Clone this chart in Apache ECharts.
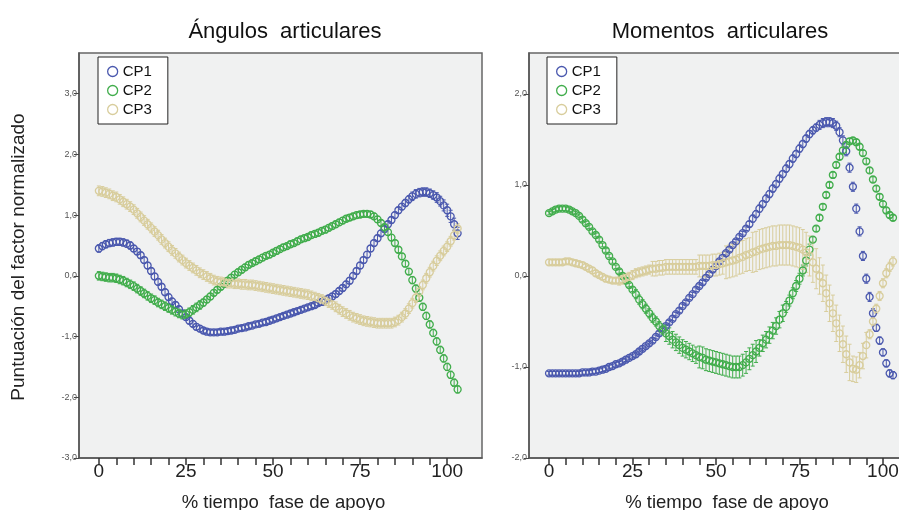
<!DOCTYPE html>
<html>
<head>
<meta charset="utf-8">
<script src="https://cdn.jsdelivr.net/npm/echarts@6/dist/echarts.min.js"></script>
<style>
  html, body { margin: 0; padding: 0; background: #fff; }
  #chart { width: 899px; height: 510px; }
</style>
</head>
<body>
<div id="chart"></div>
<script>
// % tiempo fase de apoyo (0..103)
const tiempo = Array.from({ length: 104 }, (_, i) => i);

const xTicks = [0, 5, 10, 15, 20, 25, 30, 35, 40, 45, 50, 55, 60, 65, 70, 75, 80, 85, 90, 95, 100];
const xLabels = [0, 25, 50, 75, 100];
const yTicksAng = [-3, -2, -1, 0, 1, 2, 3];
const yTicksMom = [-2, -1, 0, 1, 2];

// Ángulos articulares
const angCP1 = [
  0.45, 0.49, 0.52, 0.54, 0.55, 0.56, 0.56, 0.55, 0.53, 0.50,
  0.45, 0.40, 0.34, 0.26, 0.17, 0.08, -0.01, -0.10, -0.18, -0.27,
  -0.35, -0.42, -0.48, -0.55, -0.62, -0.68, -0.74, -0.79, -0.84, -0.87,
  -0.90, -0.92, -0.93, -0.93, -0.93, -0.92, -0.92, -0.91, -0.90, -0.89,
  -0.87, -0.86, -0.85, -0.83, -0.82, -0.80, -0.79, -0.77, -0.76, -0.74,
  -0.72, -0.70, -0.68, -0.66, -0.64, -0.62, -0.60, -0.58, -0.56, -0.54,
  -0.52, -0.50, -0.48, -0.45, -0.43, -0.40, -0.37, -0.34, -0.30, -0.25,
  -0.20, -0.14, -0.08, 0.00, 0.08, 0.17, 0.26, 0.35, 0.45, 0.54,
  0.62, 0.70, 0.77, 0.85, 0.92, 1.00, 1.08, 1.14, 1.20, 1.26,
  1.31, 1.35, 1.37, 1.38, 1.38, 1.36, 1.33, 1.29, 1.23, 1.16,
  1.08, 0.98, 0.85, 0.70
];
const angCP2 = [
  0.00, -0.01, -0.02, -0.03, -0.03, -0.04, -0.06, -0.08, -0.11, -0.14,
  -0.17, -0.21, -0.25, -0.29, -0.33, -0.37, -0.40, -0.44, -0.47, -0.50,
  -0.53, -0.56, -0.59, -0.62, -0.64, -0.63, -0.60, -0.56, -0.52, -0.48,
  -0.44, -0.39, -0.34, -0.28, -0.23, -0.18, -0.13, -0.08, -0.03, 0.02,
  0.06, 0.10, 0.14, 0.18, 0.21, 0.24, 0.27, 0.30, 0.33, 0.35,
  0.38, 0.41, 0.44, 0.47, 0.49, 0.52, 0.54, 0.57, 0.60, 0.62,
  0.64, 0.67, 0.69, 0.71, 0.74, 0.76, 0.79, 0.82, 0.85, 0.88,
  0.91, 0.94, 0.96, 0.98, 1.00, 1.01, 1.02, 1.02, 1.01, 0.98,
  0.93, 0.87, 0.80, 0.72, 0.63, 0.54, 0.43, 0.32, 0.20, 0.07,
  -0.07, -0.21, -0.36, -0.51, -0.66, -0.80, -0.94, -1.08, -1.22, -1.36,
  -1.50, -1.63, -1.76, -1.87
];
const angCP3 = [
  1.40, 1.39, 1.37, 1.35, 1.32, 1.30, 1.26, 1.22, 1.18, 1.14,
  1.09, 1.03, 0.97, 0.91, 0.85, 0.79, 0.73, 0.67, 0.60, 0.54,
  0.48, 0.42, 0.37, 0.31, 0.26, 0.21, 0.17, 0.13, 0.09, 0.05,
  0.02, -0.01, -0.04, -0.07, -0.09, -0.10, -0.11, -0.12, -0.12, -0.13,
  -0.13, -0.14, -0.14, -0.15, -0.15, -0.16, -0.17, -0.18, -0.19, -0.20,
  -0.21, -0.22, -0.23, -0.24, -0.25, -0.26, -0.27, -0.28, -0.29, -0.30,
  -0.31, -0.33, -0.35, -0.37, -0.39, -0.41, -0.44, -0.47, -0.51, -0.55,
  -0.59, -0.62, -0.65, -0.68, -0.70, -0.72, -0.74, -0.75, -0.76, -0.77,
  -0.78, -0.78, -0.78, -0.78, -0.78, -0.76, -0.73, -0.68, -0.62, -0.54,
  -0.45, -0.36, -0.26, -0.15, -0.04, 0.06, 0.16, 0.25, 0.33, 0.41,
  0.48, 0.57, 0.67, 0.78
];

// Momentos articulares
const momCP1 = [
  -1.07, -1.07, -1.07, -1.07, -1.07, -1.07, -1.07, -1.07, -1.07, -1.07,
  -1.06, -1.06, -1.06, -1.05, -1.05, -1.04, -1.03, -1.02, -1.00, -0.99,
  -0.97, -0.96, -0.94, -0.92, -0.90, -0.88, -0.86, -0.83, -0.80, -0.77,
  -0.74, -0.71, -0.67, -0.63, -0.59, -0.55, -0.51, -0.47, -0.42, -0.38,
  -0.33, -0.29, -0.24, -0.20, -0.15, -0.11, -0.07, -0.02, 0.02, 0.07,
  0.11, 0.16, 0.20, 0.25, 0.29, 0.34, 0.38, 0.43, 0.47, 0.52,
  0.57, 0.63, 0.68, 0.74, 0.79, 0.85, 0.90, 0.96, 1.01, 1.07,
  1.12, 1.18, 1.23, 1.29, 1.34, 1.40, 1.45, 1.51, 1.56, 1.60,
  1.63, 1.66, 1.68, 1.69, 1.69, 1.68, 1.65, 1.58, 1.49, 1.37,
  1.19, 0.98, 0.74, 0.49, 0.22, -0.03, -0.23, -0.41, -0.57, -0.71,
  -0.84, -0.96, -1.07, -1.09
];
const momCP2 = [
  0.69, 0.71, 0.73, 0.74, 0.74, 0.74, 0.73, 0.71, 0.69, 0.66,
  0.62, 0.58, 0.54, 0.49, 0.45, 0.40, 0.34, 0.28, 0.22, 0.16,
  0.10, 0.05, 0.00, -0.05, -0.10, -0.15, -0.20, -0.26, -0.31, -0.36,
  -0.41, -0.46, -0.50, -0.55, -0.59, -0.63, -0.66, -0.70, -0.73, -0.76,
  -0.79, -0.81, -0.83, -0.85, -0.87, -0.89, -0.90, -0.92, -0.93, -0.94,
  -0.95, -0.96, -0.97, -0.98, -0.99, -1.00, -1.00, -1.00, -0.98, -0.95,
  -0.91, -0.87, -0.83, -0.79, -0.74, -0.70, -0.65, -0.60, -0.55, -0.48,
  -0.41, -0.34, -0.27, -0.19, -0.11, -0.03, 0.06, 0.17, 0.29, 0.40,
  0.52, 0.64, 0.76, 0.89, 1.00, 1.11, 1.22, 1.31, 1.38, 1.44,
  1.48, 1.49, 1.47, 1.42, 1.35, 1.26, 1.16, 1.06, 0.96, 0.87,
  0.79, 0.72, 0.67, 0.64
];
const momCP3 = [
  0.15, 0.15, 0.15, 0.15, 0.15, 0.16, 0.16, 0.15, 0.14, 0.13,
  0.12, 0.10, 0.08, 0.06, 0.03, 0.01, -0.01, -0.03, -0.04, -0.05,
  -0.05, -0.05, -0.04, -0.02, -0.01, 0.01, 0.03, 0.04, 0.05, 0.06,
  0.07, 0.08, 0.08, 0.09, 0.09, 0.10, 0.10, 0.10, 0.10, 0.10,
  0.10, 0.10, 0.10, 0.10, 0.10, 0.11, 0.11, 0.11, 0.11, 0.12,
  0.12, 0.13, 0.14, 0.15, 0.16, 0.17, 0.18, 0.20, 0.21, 0.23,
  0.24, 0.26, 0.27, 0.29, 0.30, 0.31, 0.32, 0.33, 0.33, 0.34,
  0.34, 0.34, 0.34, 0.33, 0.32, 0.31, 0.29, 0.26, 0.22, 0.15,
  0.08, 0.00, -0.08, -0.19, -0.30, -0.41, -0.52, -0.63, -0.75, -0.86,
  -0.95, -1.02, -1.03, -0.98, -0.88, -0.76, -0.64, -0.50, -0.36, -0.22,
  -0.08, 0.03, 0.10, 0.16
];

// half-width of the error bars
const angErr1 = [
  0.06, 0.06, 0.06, 0.06, 0.06, 0.06, 0.06, 0.06, 0.06, 0.06,
  0.05, 0.05, 0.05, 0.05, 0.05, 0.05, 0.05, 0.05, 0.05, 0.05,
  0.05, 0.05, 0.05, 0.05, 0.05, 0.05, 0.05, 0.05, 0.05, 0.05,
  0.04, 0.04, 0.04, 0.04, 0.04, 0.04, 0.04, 0.04, 0.04, 0.04,
  0.04, 0.04, 0.04, 0.04, 0.04, 0.04, 0.04, 0.04, 0.04, 0.04,
  0.04, 0.04, 0.04, 0.04, 0.04, 0.04, 0.04, 0.04, 0.04, 0.04,
  0.04, 0.04, 0.04, 0.04, 0.05, 0.05, 0.05, 0.05, 0.05, 0.05,
  0.05, 0.05, 0.05, 0.05, 0.05, 0.05, 0.05, 0.05, 0.05, 0.05,
  0.05, 0.05, 0.05, 0.05, 0.05, 0.05, 0.05, 0.05, 0.06, 0.06,
  0.07, 0.07, 0.07, 0.07, 0.07, 0.07, 0.07, 0.08, 0.08, 0.09,
  0.10, 0.10, 0.10, 0.10
];
const angErr2 = [
  0.07, 0.07, 0.07, 0.07, 0.07, 0.07, 0.07, 0.07, 0.07, 0.07,
  0.07, 0.07, 0.07, 0.07, 0.07, 0.07, 0.07, 0.07, 0.07, 0.07,
  0.07, 0.07, 0.07, 0.07, 0.07, 0.07, 0.07, 0.07, 0.07, 0.07,
  0.06, 0.05, 0.05, 0.05, 0.05, 0.05, 0.05, 0.05, 0.05, 0.05,
  0.05, 0.05, 0.05, 0.05, 0.05, 0.05, 0.05, 0.05, 0.05, 0.05,
  0.05, 0.05, 0.05, 0.05, 0.05, 0.05, 0.05, 0.05, 0.05, 0.05,
  0.05, 0.05, 0.05, 0.05, 0.05, 0.05, 0.05, 0.05, 0.05, 0.05,
  0.05, 0.05, 0.05, 0.05, 0.05, 0.05, 0.05, 0.05, 0.05, 0.05,
  0.05, 0.05, 0.05, 0.05, 0.05, 0.05, 0.05, 0.05, 0.05, 0.05,
  0.06, 0.06, 0.06, 0.06, 0.06, 0.06, 0.06, 0.06, 0.06, 0.06,
  0.06, 0.06, 0.06, 0.06
];
const angErr3 = [
  0.08, 0.08, 0.08, 0.08, 0.08, 0.08, 0.08, 0.08, 0.08, 0.08,
  0.08, 0.08, 0.08, 0.08, 0.08, 0.08, 0.08, 0.08, 0.08, 0.08,
  0.08, 0.08, 0.08, 0.08, 0.08, 0.08, 0.08, 0.08, 0.08, 0.08,
  0.08, 0.08, 0.08, 0.08, 0.08, 0.08, 0.08, 0.08, 0.08, 0.08,
  0.08, 0.08, 0.08, 0.08, 0.08, 0.08, 0.08, 0.08, 0.08, 0.08,
  0.08, 0.08, 0.08, 0.08, 0.08, 0.08, 0.08, 0.08, 0.08, 0.08,
  0.08, 0.08, 0.08, 0.08, 0.08, 0.08, 0.08, 0.08, 0.08, 0.08,
  0.08, 0.08, 0.08, 0.08, 0.08, 0.08, 0.08, 0.08, 0.08, 0.08,
  0.08, 0.08, 0.08, 0.08, 0.08, 0.08, 0.08, 0.08, 0.08, 0.08,
  0.08, 0.08, 0.08, 0.08, 0.08, 0.08, 0.08, 0.08, 0.08, 0.08,
  0.08, 0.08, 0.08, 0.08
];
const momErr1 = [
  0.02, 0.02, 0.02, 0.02, 0.02, 0.02, 0.02, 0.02, 0.02, 0.02,
  0.02, 0.02, 0.02, 0.02, 0.02, 0.02, 0.02, 0.02, 0.02, 0.02,
  0.02, 0.02, 0.02, 0.02, 0.02, 0.02, 0.02, 0.02, 0.02, 0.02,
  0.02, 0.02, 0.02, 0.02, 0.02, 0.02, 0.02, 0.02, 0.02, 0.02,
  0.02, 0.02, 0.02, 0.02, 0.02, 0.02, 0.02, 0.02, 0.02, 0.02,
  0.02, 0.02, 0.02, 0.02, 0.02, 0.02, 0.02, 0.02, 0.02, 0.02,
  0.03, 0.04, 0.04, 0.04, 0.04, 0.04, 0.04, 0.04, 0.04, 0.04,
  0.04, 0.04, 0.04, 0.04, 0.04, 0.04, 0.04, 0.04, 0.04, 0.04,
  0.04, 0.05, 0.05, 0.05, 0.05, 0.05, 0.05, 0.05, 0.05, 0.05,
  0.05, 0.05, 0.05, 0.05, 0.05, 0.05, 0.05, 0.05, 0.04, 0.04,
  0.04, 0.04, 0.04, 0.04
];
const momErr2 = [
  0.02, 0.02, 0.02, 0.02, 0.02, 0.02, 0.02, 0.02, 0.02, 0.02,
  0.02, 0.02, 0.02, 0.02, 0.02, 0.02, 0.02, 0.02, 0.02, 0.02,
  0.02, 0.02, 0.02, 0.02, 0.02, 0.02, 0.05, 0.05, 0.05, 0.05,
  0.05, 0.05, 0.05, 0.05, 0.05, 0.09, 0.09, 0.09, 0.09, 0.09,
  0.09, 0.09, 0.09, 0.09, 0.09, 0.12, 0.12, 0.12, 0.12, 0.12,
  0.12, 0.12, 0.12, 0.12, 0.12, 0.12, 0.12, 0.12, 0.12, 0.12,
  0.12, 0.12, 0.12, 0.09, 0.09, 0.09, 0.09, 0.09, 0.09, 0.09,
  0.09, 0.06, 0.06, 0.06, 0.06, 0.06, 0.06, 0.06, 0.06, 0.03,
  0.03, 0.03, 0.03, 0.03, 0.03, 0.03, 0.03, 0.03, 0.03, 0.03,
  0.03, 0.03, 0.03, 0.03, 0.03, 0.03, 0.03, 0.03, 0.03, 0.03,
  0.03, 0.03, 0.03, 0.03
];
const momErr3 = [
  0.03, 0.03, 0.03, 0.03, 0.03, 0.03, 0.03, 0.03, 0.03, 0.03,
  0.03, 0.03, 0.03, 0.03, 0.03, 0.03, 0.03, 0.03, 0.03, 0.03,
  0.03, 0.05, 0.05, 0.05, 0.05, 0.05, 0.05, 0.05, 0.05, 0.05,
  0.05, 0.08, 0.08, 0.08, 0.08, 0.08, 0.08, 0.08, 0.08, 0.08,
  0.08, 0.08, 0.08, 0.08, 0.08, 0.12, 0.12, 0.12, 0.12, 0.12,
  0.12, 0.12, 0.12, 0.18, 0.18, 0.18, 0.18, 0.18, 0.18, 0.18,
  0.18, 0.22, 0.22, 0.22, 0.22, 0.22, 0.22, 0.22, 0.22, 0.22,
  0.22, 0.22, 0.22, 0.22, 0.22, 0.22, 0.22, 0.22, 0.22, 0.22,
  0.22, 0.20, 0.20, 0.20, 0.20, 0.20, 0.20, 0.20, 0.20, 0.20,
  0.20, 0.14, 0.14, 0.14, 0.14, 0.14, 0.05, 0.05, 0.05, 0.05,
  0.05, 0.05, 0.05, 0.05
];

const colors = ['#4a58ae', '#41ad4c', '#d8cd9c'];
const names = ['CP1', 'CP2', 'CP3'];
const fontFam = '"Liberation Sans", Arial, sans-serif';

const fmtY = (v) => v.toFixed(1).replace('.', ',');

const makeX = (idx, min, max) => ({
  type: 'value',
  gridIndex: idx,
  min: min,
  max: max,
  splitLine: { show: false },
  axisLine: { show: true, onZero: false, lineStyle: { color: '#555', width: 1.5 } },
  axisTick: { show: true, customValues: xTicks, length: 7, lineStyle: { color: '#333', width: 1.5 } },
  axisLabel: { customValues: xLabels, fontSize: 19, color: '#222', margin: 4, fontFamily: fontFam },
  name: '% tiempo  fase de apoyo',
  nameLocation: 'middle',
  nameGap: 35,
  nameTextStyle: { fontSize: 18.5, color: '#222', fontFamily: fontFam, padding: idx === 1 ? [0, 0, 0, 24] : [0, 0, 0, 6] },
});

const makeY = (idx, min, max, ticks) => ({
  type: 'value',
  gridIndex: idx,
  min: min,
  max: max,
  splitLine: { show: false },
  axisLine: { show: true, onZero: false, lineStyle: { color: '#555', width: 1.5 } },
  axisTick: { show: true, customValues: ticks, length: 5, lineStyle: { color: '#444' } },
  axisLabel: { customValues: ticks, formatter: fmtY, fontSize: 9, color: '#555', margin: 2, fontFamily: fontFam },
});

const errBar = (color) => (params, api) => {
  const x = api.value(0);
  const v = api.value(1);
  const e = api.value(2);
  const top = api.coord([x, v + e]);
  const bot = api.coord([x, v - e]);
  const hw = 2;
  const st = { stroke: color, lineWidth: 1 };
  return {
    type: 'group',
    children: [
      { type: 'line', shape: { x1: top[0], y1: top[1], x2: bot[0], y2: bot[1] }, style: st },
      { type: 'line', shape: { x1: top[0] - hw, y1: top[1], x2: top[0] + hw, y2: top[1] }, style: st },
      { type: 'line', shape: { x1: bot[0] - hw, y1: bot[1], x2: bot[0] + hw, y2: bot[1] }, style: st },
    ],
  };
};

const markStyle = (k) => ({ color: 'rgba(0,0,0,0)', borderColor: colors[k], borderWidth: 1.3, opacity: 1 });

const buildSeries = (idx, vals, errs) => {
  const out = [];
  vals.forEach((serie, k) => {
    out.push({
      name: names[k],
      type: 'scatter',
      xAxisIndex: idx,
      yAxisIndex: idx,
      symbol: 'circle',
      symbolSize: 7,
      itemStyle: markStyle(k),
      data: tiempo.map((t, i) => [t, serie[i]]),
      z: 3,
    });
    out.push({
      name: names[k],
      type: 'custom',
      xAxisIndex: idx,
      yAxisIndex: idx,
      renderItem: errBar(colors[k]),
      itemStyle: markStyle(k),
      data: tiempo.map((t, i) => [t, serie[i], errs[k][i]]),
      silent: true,
      z: 2,
    });
  });
  return out;
};

const makeLegend = (left) => ({
  orient: 'vertical',
  left: left,
  top: 57,
  data: names.map((n, k) => ({ name: n, itemStyle: markStyle(k) })),
  icon: 'circle',
  itemWidth: 10,
  itemHeight: 11,
  itemGap: 4,
  padding: [7, 16, 7, 9],
  backgroundColor: '#fff',
  borderColor: '#222',
  borderWidth: 1,
  textStyle: { fontSize: 15, color: '#111', fontFamily: fontFam },
  selectedMode: false,
});

const getOption = () => ({
  backgroundColor: '#fff',
  animation: false,
  title: [
    { text: 'Ángulos  articulares', left: 280, top: 16, textAlign: 'center',
      textStyle: { fontSize: 22, fontWeight: 'normal', color: '#111', fontFamily: fontFam } },
    { text: 'Momentos  articulares', left: 715, top: 16, textAlign: 'center',
      textStyle: { fontSize: 22, fontWeight: 'normal', color: '#111', fontFamily: fontFam } },
  ],
  legend: [makeLegend(98), makeLegend(547)],
  grid: [
    { left: 79, top: 53, width: 403, height: 405, outerBoundsMode: 'none', show: true,
      backgroundColor: '#f0f1f1', borderColor: '#666', borderWidth: 1.5 },
    { left: 529, top: 53, width: 372, height: 405, outerBoundsMode: 'none', show: true,
      backgroundColor: '#f0f1f1', borderColor: '#666', borderWidth: 1.5 },
  ],
  xAxis: [makeX(0, -5.7, 110), makeX(1, -6, 105.4)],
  yAxis: [makeY(0, -3, 3.67, yTicksAng), makeY(1, -2, 2.45, yTicksMom)],
  graphic: [
    {
      type: 'text',
      x: 19,
      y: 257,
      rotation: Math.PI / 2,
      style: {
        text: 'Puntuación del factor normalizado',
        fontSize: 19,
        fill: '#222',
        fontFamily: fontFam,
        align: 'center',
        verticalAlign: 'middle',
      },
    },
  ],
  series: [
    ...buildSeries(0, [angCP1, angCP2, angCP3], [angErr1, angErr2, angErr3]),
    ...buildSeries(1, [momCP1, momCP2, momCP3], [momErr1, momErr2, momErr3]),
  ],
});

const chart = echarts.init(document.getElementById('chart'));
chart.setOption(getOption());
</script>
</body>
</html>
